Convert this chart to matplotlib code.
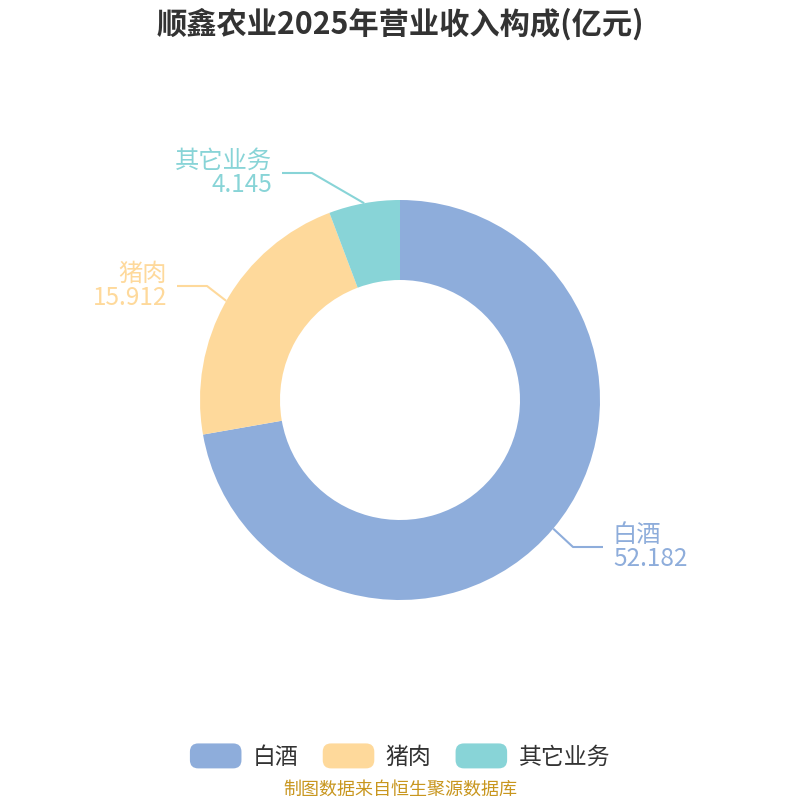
import numpy as np
import matplotlib
matplotlib.use('Agg')
import matplotlib.pyplot as plt
from matplotlib.patches import FancyBboxPatch, Wedge
from matplotlib.legend_handler import HandlerPatch

plt.rcParams['font.family'] = ['Noto Sans CJK SC', 'DejaVu Sans']

title = '顺鑫农业2025年营业收入构成(亿元)'
categories = ['白酒', '猪肉', '其它业务']
values = [52.182, 15.912, 4.145]
value_labels = ['52.182', '15.912', '4.145']
colors = ['#8eaddb', '#fed99b', '#88d4d7']
source = '制图数据来自恒生聚源数据库'

# label layout (pixel coords from top-left): elbow point, side
elbows = [(573, 547), (207, 286), (312, 173)]
sides = [1, -1, -1]


class RoundHandler(HandlerPatch):
    def create_artists(self, legend, orig_handle, xdescent, ydescent,
                       width, height, fontsize, trans):
        p = FancyBboxPatch((-xdescent, -ydescent), width, height,
                           boxstyle='round,pad=0,rounding_size=6',
                           facecolor=orig_handle.get_facecolor(),
                           edgecolor='none', transform=trans)
        return [p]


fig = plt.figure(figsize=(8, 8), dpi=100)
ax = fig.add_axes([0, 0, 1, 1])

cx, cy, r = 400, 400, 200
wedges, _ = ax.pie(values, colors=colors, startangle=90, counterclock=False,
                   center=(cx, cy), radius=r,
                   wedgeprops=dict(width=80, linewidth=0))
ax.set_xlim(0, 800)
ax.set_ylim(0, 800)
ax.set_aspect('equal')
ax.axis('off')

for w, cat, vl, col, (ex, ey), side in zip(wedges, categories, value_labels,
                                           colors, elbows, sides):
    mid = np.deg2rad((w.theta1 + w.theta2) / 2)
    px, py = cx + r * np.cos(mid), cy + r * np.sin(mid)
    ey = 800 - ey
    hx = ex + 30 * side
    ax.plot([px, ex, hx], [py, ey, ey], color=col, lw=1.5,
            solid_capstyle='butt')
    ax.text(hx + 10 * side, ey, cat + '\n' + vl, color=col, fontsize=17.5,
            ha='left' if side > 0 else 'right', va='center', linespacing=0.9)

fig.text(0.5, 1 - 24 / 800, title, ha='center', va='center',
         fontsize=21.8, fontweight='bold', color='#333333')

fig.legend(wedges, categories, loc='center', bbox_to_anchor=(0.5, 1 - 756 / 800),
           ncol=3, frameon=False, fontsize=16.5, handlelength=2.25, handleheight=1.3,
           handletextpad=0.5, columnspacing=1.05, labelcolor='#333333',
           handler_map={Wedge: RoundHandler()})

fig.text(0.5, 1 - 790 / 800, source, ha='center', va='center',
         fontsize=13, color='#c8961e')

fig.savefig('out.png', dpi=100)
